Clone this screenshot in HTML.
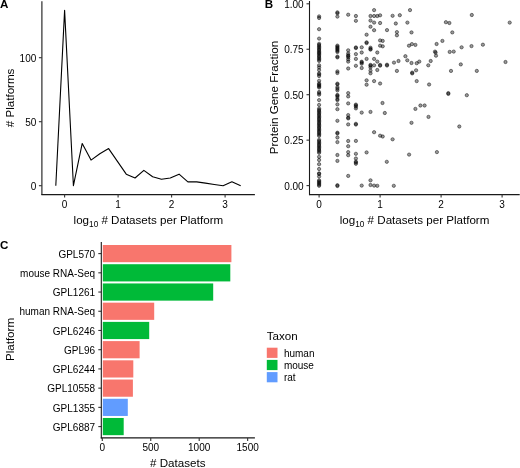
<!DOCTYPE html>
<html><head><meta charset="utf-8"><style>
html,body{margin:0;padding:0;background:#fff;}
body{width:520px;height:468px;overflow:hidden;font-family:"Liberation Sans",sans-serif;}
svg{display:block;}
</style></head><body>
<div style="will-change:transform;width:520px;height:468px;background:#fff"><svg width="520" height="468" viewBox="0 0 520 468" font-family="Liberation Sans, sans-serif"><line x1="41.9" y1="1.2" x2="41.9" y2="195.1" stroke="#1a1a1a" stroke-width="1.1"/>
<line x1="41.4" y1="194.6" x2="254.9" y2="194.6" stroke="#1a1a1a" stroke-width="1.1"/>
<line x1="38.9" y1="185.70" x2="41.9" y2="185.70" stroke="#333333" stroke-width="1.1"/>
<text x="36.3" y="189.70" text-anchor="end" font-size="10" fill="#000">0</text>
<line x1="38.9" y1="121.70" x2="41.9" y2="121.70" stroke="#333333" stroke-width="1.1"/>
<text x="36.3" y="125.70" text-anchor="end" font-size="10" fill="#000">50</text>
<line x1="38.9" y1="57.70" x2="41.9" y2="57.70" stroke="#333333" stroke-width="1.1"/>
<text x="36.3" y="61.70" text-anchor="end" font-size="10" fill="#000">100</text>
<line x1="64.60" y1="194.6" x2="64.60" y2="197.6" stroke="#333333" stroke-width="1.1"/>
<text x="64.60" y="208" text-anchor="middle" font-size="10" fill="#000">0</text>
<line x1="118.10" y1="194.6" x2="118.10" y2="197.6" stroke="#333333" stroke-width="1.1"/>
<text x="118.10" y="208" text-anchor="middle" font-size="10" fill="#000">1</text>
<line x1="171.60" y1="194.6" x2="171.60" y2="197.6" stroke="#333333" stroke-width="1.1"/>
<text x="171.60" y="208" text-anchor="middle" font-size="10" fill="#000">2</text>
<line x1="225.10" y1="194.6" x2="225.10" y2="197.6" stroke="#333333" stroke-width="1.1"/>
<text x="225.10" y="208" text-anchor="middle" font-size="10" fill="#000">3</text>
<polyline points="55.80,185.70 64.60,10.34 73.41,185.70 82.22,143.46 91.02,160.10 99.82,153.70 108.63,148.58 117.44,161.38 126.24,174.18 135.05,178.02 143.85,170.34 152.65,176.74 161.46,179.30 170.26,178.02 179.07,174.18 187.88,181.86 196.68,181.86 205.49,183.14 214.29,184.42 223.09,185.70 231.90,181.86 240.70,185.70" fill="none" stroke="#000" stroke-width="1.1" stroke-linejoin="round"/>
<text x="148.4" y="224.1" text-anchor="middle" font-size="11.6" fill="#000">log<tspan font-size="8.2" dy="2.6">10</tspan><tspan dy="-2.6"> # Datasets per Platform</tspan></text>
<text transform="translate(13.8,97.9) rotate(-90)" text-anchor="middle" font-size="11.6" fill="#000"># Platforms</text>
<text x="-0.1" y="8.4" font-size="11.6" font-weight="bold" fill="#000">A</text>
<line x1="309.5" y1="1.0" x2="309.5" y2="195.1" stroke="#1a1a1a" stroke-width="1.1"/>
<line x1="309.0" y1="194.6" x2="519.7" y2="194.6" stroke="#1a1a1a" stroke-width="1.1"/>
<line x1="306.5" y1="185.60" x2="309.5" y2="185.60" stroke="#333333" stroke-width="1.1"/>
<text x="303.6" y="189.80" text-anchor="end" font-size="10" fill="#000">0.00</text>
<line x1="306.5" y1="140.15" x2="309.5" y2="140.15" stroke="#333333" stroke-width="1.1"/>
<text x="303.6" y="144.35" text-anchor="end" font-size="10" fill="#000">0.25</text>
<line x1="306.5" y1="94.70" x2="309.5" y2="94.70" stroke="#333333" stroke-width="1.1"/>
<text x="303.6" y="98.90" text-anchor="end" font-size="10" fill="#000">0.50</text>
<line x1="306.5" y1="49.25" x2="309.5" y2="49.25" stroke="#333333" stroke-width="1.1"/>
<text x="303.6" y="53.45" text-anchor="end" font-size="10" fill="#000">0.75</text>
<line x1="306.5" y1="3.80" x2="309.5" y2="3.80" stroke="#333333" stroke-width="1.1"/>
<text x="303.6" y="8.00" text-anchor="end" font-size="10" fill="#000">1.00</text>
<line x1="319.10" y1="194.6" x2="319.10" y2="197.6" stroke="#333333" stroke-width="1.1"/>
<text x="319.10" y="208" text-anchor="middle" font-size="10" fill="#000">0</text>
<line x1="380.10" y1="194.6" x2="380.10" y2="197.6" stroke="#333333" stroke-width="1.1"/>
<text x="380.10" y="208" text-anchor="middle" font-size="10" fill="#000">1</text>
<line x1="441.10" y1="194.6" x2="441.10" y2="197.6" stroke="#333333" stroke-width="1.1"/>
<text x="441.10" y="208" text-anchor="middle" font-size="10" fill="#000">2</text>
<line x1="502.10" y1="194.6" x2="502.10" y2="197.6" stroke="#333333" stroke-width="1.1"/>
<text x="502.10" y="208" text-anchor="middle" font-size="10" fill="#000">3</text>
<text x="414.6" y="224.1" text-anchor="middle" font-size="11.6" fill="#000">log<tspan font-size="8.2" dy="2.6">10</tspan><tspan dy="-2.6"> # Datasets per Platform</tspan></text>
<text transform="translate(278.2,97.6) rotate(-90)" text-anchor="middle" font-size="11.6" fill="#000">Protein Gene Fraction</text>
<text x="264.7" y="8.4" font-size="11.6" font-weight="bold" fill="#000">B</text>
<g fill="rgba(0,0,0,0.4)" stroke="rgba(0,0,0,0.5)" stroke-width="0.9">
<circle cx="319.1" cy="16.4" r="1.65"/>
<circle cx="319.1" cy="18.0" r="1.65"/>
<circle cx="319.1" cy="29.2" r="1.65"/>
<circle cx="319.1" cy="38.6" r="1.65"/>
<circle cx="319.1" cy="65.3" r="1.65"/>
<circle cx="319.1" cy="67.5" r="1.65"/>
<circle cx="319.1" cy="70.1" r="1.65"/>
<circle cx="319.1" cy="73.4" r="1.65"/>
<circle cx="319.1" cy="76.0" r="1.65"/>
<circle cx="319.1" cy="80.8" r="1.65"/>
<circle cx="319.1" cy="83.5" r="1.65"/>
<circle cx="319.1" cy="85.5" r="1.65"/>
<circle cx="319.1" cy="87.5" r="1.65"/>
<circle cx="319.1" cy="92.0" r="1.65"/>
<circle cx="319.1" cy="94.7" r="1.65"/>
<circle cx="319.1" cy="100.1" r="1.65"/>
<circle cx="319.1" cy="104.9" r="1.65"/>
<circle cx="319.1" cy="156.8" r="1.65"/>
<circle cx="319.1" cy="160.0" r="1.65"/>
<circle cx="319.1" cy="164.2" r="1.65"/>
<circle cx="319.1" cy="169.0" r="1.65"/>
<circle cx="319.1" cy="173.3" r="1.65"/>
<circle cx="319.1" cy="174.0" r="1.65"/>
<circle cx="319.1" cy="176.5" r="1.65"/>
<circle cx="319.1" cy="43.8" r="1.65"/>
<circle cx="319.1" cy="45.0" r="1.65"/>
<circle cx="319.1" cy="46.3" r="1.65"/>
<circle cx="319.1" cy="47.5" r="1.65"/>
<circle cx="319.1" cy="48.8" r="1.65"/>
<circle cx="319.1" cy="50.0" r="1.65"/>
<circle cx="319.1" cy="51.3" r="1.65"/>
<circle cx="319.1" cy="53.4" r="1.65"/>
<circle cx="319.1" cy="54.6" r="1.65"/>
<circle cx="319.1" cy="55.9" r="1.65"/>
<circle cx="319.1" cy="57.1" r="1.65"/>
<circle cx="319.1" cy="58.4" r="1.65"/>
<circle cx="319.1" cy="59.6" r="1.65"/>
<circle cx="319.1" cy="60.9" r="1.65"/>
<circle cx="319.1" cy="52.5" r="1.65"/>
<circle cx="319.1" cy="108.6" r="1.65"/>
<circle cx="319.1" cy="109.9" r="1.65"/>
<circle cx="319.1" cy="111.2" r="1.65"/>
<circle cx="319.1" cy="112.5" r="1.65"/>
<circle cx="319.1" cy="113.8" r="1.65"/>
<circle cx="319.1" cy="115.1" r="1.65"/>
<circle cx="319.1" cy="116.4" r="1.65"/>
<circle cx="319.1" cy="117.7" r="1.65"/>
<circle cx="319.1" cy="119.0" r="1.65"/>
<circle cx="319.1" cy="120.3" r="1.65"/>
<circle cx="319.1" cy="121.6" r="1.65"/>
<circle cx="319.1" cy="122.9" r="1.65"/>
<circle cx="319.1" cy="124.2" r="1.65"/>
<circle cx="319.1" cy="125.5" r="1.65"/>
<circle cx="319.1" cy="126.8" r="1.65"/>
<circle cx="319.1" cy="128.1" r="1.65"/>
<circle cx="319.1" cy="129.4" r="1.65"/>
<circle cx="319.1" cy="130.7" r="1.65"/>
<circle cx="319.1" cy="132.0" r="1.65"/>
<circle cx="319.1" cy="133.3" r="1.65"/>
<circle cx="319.1" cy="134.6" r="1.65"/>
<circle cx="319.1" cy="135.9" r="1.65"/>
<circle cx="319.1" cy="139.8" r="1.65"/>
<circle cx="319.1" cy="141.1" r="1.65"/>
<circle cx="319.1" cy="142.4" r="1.65"/>
<circle cx="319.1" cy="143.7" r="1.65"/>
<circle cx="319.1" cy="145.0" r="1.65"/>
<circle cx="319.1" cy="146.3" r="1.65"/>
<circle cx="319.1" cy="147.6" r="1.65"/>
<circle cx="319.1" cy="148.9" r="1.65"/>
<circle cx="319.1" cy="150.2" r="1.65"/>
<circle cx="319.1" cy="151.5" r="1.65"/>
<circle cx="319.1" cy="152.8" r="1.65"/>
<circle cx="319.1" cy="180.3" r="1.65"/>
<circle cx="319.1" cy="181.4" r="1.65"/>
<circle cx="319.1" cy="182.5" r="1.65"/>
<circle cx="319.1" cy="183.6" r="1.65"/>
<circle cx="319.1" cy="184.7" r="1.65"/>
<circle cx="319.1" cy="185.8" r="1.65"/>
<circle cx="319.1" cy="84.5" r="1.65"/>
<circle cx="319.1" cy="86.5" r="1.65"/>
<circle cx="319.1" cy="74.4" r="1.65"/>
<circle cx="319.1" cy="93.3" r="1.65"/>
<circle cx="337.4" cy="12.3" r="1.65"/>
<circle cx="337.4" cy="13.3" r="1.65"/>
<circle cx="337.4" cy="16.6" r="1.65"/>
<circle cx="337.4" cy="45.6" r="1.65"/>
<circle cx="337.4" cy="46.6" r="1.65"/>
<circle cx="337.4" cy="47.7" r="1.65"/>
<circle cx="337.4" cy="48.7" r="1.65"/>
<circle cx="337.4" cy="49.8" r="1.65"/>
<circle cx="337.4" cy="50.9" r="1.65"/>
<circle cx="337.4" cy="52.0" r="1.65"/>
<circle cx="337.4" cy="56.6" r="1.65"/>
<circle cx="337.4" cy="57.4" r="1.65"/>
<circle cx="337.4" cy="71.4" r="1.65"/>
<circle cx="337.4" cy="73.0" r="1.65"/>
<circle cx="337.4" cy="83.6" r="1.65"/>
<circle cx="337.4" cy="84.4" r="1.65"/>
<circle cx="337.4" cy="87.2" r="1.65"/>
<circle cx="337.4" cy="88.8" r="1.65"/>
<circle cx="337.4" cy="90.4" r="1.65"/>
<circle cx="337.4" cy="95.0" r="1.65"/>
<circle cx="337.4" cy="95.6" r="1.65"/>
<circle cx="337.4" cy="96.9" r="1.65"/>
<circle cx="337.4" cy="99.1" r="1.65"/>
<circle cx="337.4" cy="100.1" r="1.65"/>
<circle cx="337.4" cy="104.4" r="1.65"/>
<circle cx="337.4" cy="109.2" r="1.65"/>
<circle cx="337.4" cy="120.8" r="1.65"/>
<circle cx="337.4" cy="132.7" r="1.65"/>
<circle cx="337.4" cy="133.5" r="1.65"/>
<circle cx="337.4" cy="137.5" r="1.65"/>
<circle cx="337.4" cy="142.1" r="1.65"/>
<circle cx="337.4" cy="155.0" r="1.65"/>
<circle cx="337.4" cy="160.9" r="1.65"/>
<circle cx="337.4" cy="185.2" r="1.65"/>
<circle cx="337.4" cy="186.0" r="1.65"/>
<circle cx="348.2" cy="14.7" r="1.65"/>
<circle cx="348.2" cy="50.3" r="1.65"/>
<circle cx="348.2" cy="53.5" r="1.65"/>
<circle cx="348.2" cy="55.3" r="1.65"/>
<circle cx="348.2" cy="56.1" r="1.65"/>
<circle cx="348.2" cy="57.3" r="1.65"/>
<circle cx="348.2" cy="59.4" r="1.65"/>
<circle cx="348.2" cy="61.6" r="1.65"/>
<circle cx="348.2" cy="68.5" r="1.65"/>
<circle cx="348.2" cy="93.1" r="1.65"/>
<circle cx="348.2" cy="96.4" r="1.65"/>
<circle cx="348.2" cy="103.4" r="1.65"/>
<circle cx="348.2" cy="115.1" r="1.65"/>
<circle cx="348.2" cy="117.6" r="1.65"/>
<circle cx="348.2" cy="118.4" r="1.65"/>
<circle cx="348.2" cy="124.4" r="1.65"/>
<circle cx="348.2" cy="141.0" r="1.65"/>
<circle cx="348.2" cy="146.2" r="1.65"/>
<circle cx="348.2" cy="152.1" r="1.65"/>
<circle cx="348.2" cy="155.2" r="1.65"/>
<circle cx="348.2" cy="175.9" r="1.65"/>
<circle cx="355.9" cy="16.0" r="1.65"/>
<circle cx="355.9" cy="20.8" r="1.65"/>
<circle cx="355.9" cy="47.4" r="1.65"/>
<circle cx="355.9" cy="48.1" r="1.65"/>
<circle cx="355.9" cy="54.1" r="1.65"/>
<circle cx="355.9" cy="58.9" r="1.65"/>
<circle cx="355.9" cy="65.8" r="1.65"/>
<circle cx="355.9" cy="104.6" r="1.65"/>
<circle cx="355.9" cy="105.4" r="1.65"/>
<circle cx="355.9" cy="106.6" r="1.65"/>
<circle cx="355.9" cy="108.4" r="1.65"/>
<circle cx="355.9" cy="123.8" r="1.65"/>
<circle cx="355.9" cy="124.6" r="1.65"/>
<circle cx="355.9" cy="140.9" r="1.65"/>
<circle cx="355.9" cy="153.8" r="1.65"/>
<circle cx="355.9" cy="158.5" r="1.65"/>
<circle cx="355.9" cy="161.7" r="1.65"/>
<circle cx="355.9" cy="162.5" r="1.65"/>
<circle cx="355.9" cy="163.8" r="1.65"/>
<circle cx="361.7" cy="47.3" r="1.65"/>
<circle cx="361.7" cy="52.5" r="1.65"/>
<circle cx="361.7" cy="61.7" r="1.65"/>
<circle cx="361.7" cy="62.5" r="1.65"/>
<circle cx="361.7" cy="63.7" r="1.65"/>
<circle cx="361.7" cy="68.0" r="1.65"/>
<circle cx="361.7" cy="112.6" r="1.65"/>
<circle cx="361.7" cy="185.6" r="1.65"/>
<circle cx="366.6" cy="34.7" r="1.65"/>
<circle cx="366.6" cy="42.3" r="1.65"/>
<circle cx="366.6" cy="43.1" r="1.65"/>
<circle cx="366.6" cy="58.9" r="1.65"/>
<circle cx="366.6" cy="80.3" r="1.65"/>
<circle cx="366.6" cy="84.7" r="1.65"/>
<circle cx="366.6" cy="152.4" r="1.65"/>
<circle cx="370.5" cy="16.0" r="1.65"/>
<circle cx="370.5" cy="20.6" r="1.65"/>
<circle cx="370.5" cy="26.7" r="1.65"/>
<circle cx="370.5" cy="47.7" r="1.65"/>
<circle cx="370.5" cy="49.0" r="1.65"/>
<circle cx="370.5" cy="49.6" r="1.65"/>
<circle cx="370.5" cy="64.9" r="1.65"/>
<circle cx="370.5" cy="65.7" r="1.65"/>
<circle cx="370.5" cy="67.4" r="1.65"/>
<circle cx="370.5" cy="70.6" r="1.65"/>
<circle cx="370.5" cy="73.3" r="1.65"/>
<circle cx="370.5" cy="111.9" r="1.65"/>
<circle cx="370.5" cy="180.3" r="1.65"/>
<circle cx="370.5" cy="185.0" r="1.65"/>
<circle cx="374.1" cy="10.1" r="1.65"/>
<circle cx="374.1" cy="16.0" r="1.65"/>
<circle cx="374.1" cy="22.6" r="1.65"/>
<circle cx="374.1" cy="30.2" r="1.65"/>
<circle cx="374.1" cy="58.9" r="1.65"/>
<circle cx="374.1" cy="65.3" r="1.65"/>
<circle cx="374.1" cy="81.1" r="1.65"/>
<circle cx="374.1" cy="132.2" r="1.65"/>
<circle cx="374.1" cy="185.6" r="1.65"/>
<circle cx="377.3" cy="16.0" r="1.65"/>
<circle cx="377.3" cy="52.5" r="1.65"/>
<circle cx="377.3" cy="61.6" r="1.65"/>
<circle cx="377.3" cy="70.0" r="1.65"/>
<circle cx="377.3" cy="185.8" r="1.65"/>
<circle cx="380.1" cy="15.3" r="1.65"/>
<circle cx="380.1" cy="23.0" r="1.65"/>
<circle cx="380.1" cy="40.4" r="1.65"/>
<circle cx="380.1" cy="45.7" r="1.65"/>
<circle cx="380.1" cy="64.9" r="1.65"/>
<circle cx="380.1" cy="65.7" r="1.65"/>
<circle cx="380.1" cy="83.5" r="1.65"/>
<circle cx="380.1" cy="135.7" r="1.65"/>
<circle cx="382.7" cy="40.9" r="1.65"/>
<circle cx="382.7" cy="46.3" r="1.65"/>
<circle cx="382.7" cy="136.5" r="1.65"/>
<circle cx="387.0" cy="30.1" r="1.65"/>
<circle cx="387.0" cy="64.7" r="1.65"/>
<circle cx="387.0" cy="65.5" r="1.65"/>
<circle cx="382.5" cy="103.0" r="1.65"/>
<circle cx="384.8" cy="113.0" r="1.65"/>
<circle cx="386.8" cy="161.8" r="1.65"/>
<circle cx="392.6" cy="15.8" r="1.65"/>
<circle cx="392.6" cy="139.3" r="1.65"/>
<circle cx="393.8" cy="185.8" r="1.65"/>
<circle cx="394.0" cy="62.6" r="1.65"/>
<circle cx="395.8" cy="23.5" r="1.65"/>
<circle cx="396.9" cy="32.1" r="1.65"/>
<circle cx="396.9" cy="35.3" r="1.65"/>
<circle cx="396.9" cy="70.9" r="1.65"/>
<circle cx="398.5" cy="61.0" r="1.65"/>
<circle cx="399.8" cy="15.2" r="1.65"/>
<circle cx="405.4" cy="56.2" r="1.65"/>
<circle cx="407.3" cy="60.3" r="1.65"/>
<circle cx="407.4" cy="22.6" r="1.65"/>
<circle cx="409.0" cy="45.7" r="1.65"/>
<circle cx="409.1" cy="154.6" r="1.65"/>
<circle cx="410.0" cy="10.1" r="1.65"/>
<circle cx="411.5" cy="32.4" r="1.65"/>
<circle cx="411.9" cy="44.1" r="1.65"/>
<circle cx="411.5" cy="63.0" r="1.65"/>
<circle cx="412.2" cy="72.6" r="1.65"/>
<circle cx="412.2" cy="73.4" r="1.65"/>
<circle cx="411.5" cy="122.8" r="1.65"/>
<circle cx="415.4" cy="44.9" r="1.65"/>
<circle cx="415.4" cy="108.9" r="1.65"/>
<circle cx="416.7" cy="63.2" r="1.65"/>
<circle cx="416.1" cy="70.3" r="1.65"/>
<circle cx="416.7" cy="81.1" r="1.65"/>
<circle cx="419.3" cy="61.6" r="1.65"/>
<circle cx="420.4" cy="105.5" r="1.65"/>
<circle cx="424.6" cy="105.5" r="1.65"/>
<circle cx="428.3" cy="65.3" r="1.65"/>
<circle cx="428.5" cy="116.9" r="1.65"/>
<circle cx="429.1" cy="84.5" r="1.65"/>
<circle cx="430.7" cy="61.0" r="1.65"/>
<circle cx="435.0" cy="51.6" r="1.65"/>
<circle cx="435.6" cy="52.6" r="1.65"/>
<circle cx="436.0" cy="55.7" r="1.65"/>
<circle cx="436.6" cy="44.0" r="1.65"/>
<circle cx="436.9" cy="152.1" r="1.65"/>
<circle cx="442.4" cy="40.9" r="1.65"/>
<circle cx="445.9" cy="22.2" r="1.65"/>
<circle cx="449.4" cy="23.0" r="1.65"/>
<circle cx="448.3" cy="93.1" r="1.65"/>
<circle cx="448.3" cy="93.9" r="1.65"/>
<circle cx="449.7" cy="51.9" r="1.65"/>
<circle cx="453.7" cy="51.6" r="1.65"/>
<circle cx="451.0" cy="70.9" r="1.65"/>
<circle cx="452.3" cy="32.4" r="1.65"/>
<circle cx="459.3" cy="126.5" r="1.65"/>
<circle cx="460.8" cy="64.4" r="1.65"/>
<circle cx="461.6" cy="47.3" r="1.65"/>
<circle cx="466.8" cy="95.2" r="1.65"/>
<circle cx="471.8" cy="15.0" r="1.65"/>
<circle cx="471.5" cy="46.1" r="1.65"/>
<circle cx="476.8" cy="70.9" r="1.65"/>
<circle cx="482.9" cy="44.7" r="1.65"/>
<circle cx="505.5" cy="62.0" r="1.65"/>
<circle cx="509.7" cy="22.6" r="1.65"/>
</g>
<rect x="102.8" y="245.00" width="128.60" height="17.2" fill="#F8766D"/>
<line x1="98.3" y1="253.60" x2="101.3" y2="253.60" stroke="#333333" stroke-width="1.1"/>
<text x="95.1" y="257.80" text-anchor="end" font-size="10" fill="#000">GPL570</text>
<rect x="102.8" y="264.22" width="127.50" height="17.2" fill="#00BA38"/>
<line x1="98.3" y1="272.82" x2="101.3" y2="272.82" stroke="#333333" stroke-width="1.1"/>
<text x="95.1" y="277.02" text-anchor="end" font-size="10" fill="#000">mouse RNA-Seq</text>
<rect x="102.8" y="283.44" width="110.40" height="17.2" fill="#00BA38"/>
<line x1="98.3" y1="292.04" x2="101.3" y2="292.04" stroke="#333333" stroke-width="1.1"/>
<text x="95.1" y="296.24" text-anchor="end" font-size="10" fill="#000">GPL1261</text>
<rect x="102.8" y="302.66" width="51.40" height="17.2" fill="#F8766D"/>
<line x1="98.3" y1="311.26" x2="101.3" y2="311.26" stroke="#333333" stroke-width="1.1"/>
<text x="95.1" y="315.46" text-anchor="end" font-size="10" fill="#000">human RNA-Seq</text>
<rect x="102.8" y="321.88" width="46.40" height="17.2" fill="#00BA38"/>
<line x1="98.3" y1="330.48" x2="101.3" y2="330.48" stroke="#333333" stroke-width="1.1"/>
<text x="95.1" y="334.68" text-anchor="end" font-size="10" fill="#000">GPL6246</text>
<rect x="102.8" y="341.10" width="36.80" height="17.2" fill="#F8766D"/>
<line x1="98.3" y1="349.70" x2="101.3" y2="349.70" stroke="#333333" stroke-width="1.1"/>
<text x="95.1" y="353.90" text-anchor="end" font-size="10" fill="#000">GPL96</text>
<rect x="102.8" y="360.32" width="30.50" height="17.2" fill="#F8766D"/>
<line x1="98.3" y1="368.92" x2="101.3" y2="368.92" stroke="#333333" stroke-width="1.1"/>
<text x="95.1" y="373.12" text-anchor="end" font-size="10" fill="#000">GPL6244</text>
<rect x="102.8" y="379.54" width="30.10" height="17.2" fill="#F8766D"/>
<line x1="98.3" y1="388.14" x2="101.3" y2="388.14" stroke="#333333" stroke-width="1.1"/>
<text x="95.1" y="392.34" text-anchor="end" font-size="10" fill="#000">GPL10558</text>
<rect x="102.8" y="398.76" width="25.00" height="17.2" fill="#619CFF"/>
<line x1="98.3" y1="407.36" x2="101.3" y2="407.36" stroke="#333333" stroke-width="1.1"/>
<text x="95.1" y="411.56" text-anchor="end" font-size="10" fill="#000">GPL1355</text>
<rect x="102.8" y="417.98" width="20.90" height="17.2" fill="#00BA38"/>
<line x1="98.3" y1="426.58" x2="101.3" y2="426.58" stroke="#333333" stroke-width="1.1"/>
<text x="95.1" y="430.78" text-anchor="end" font-size="10" fill="#000">GPL6887</text>
<line x1="101.3" y1="242" x2="101.3" y2="438.4" stroke="#1a1a1a" stroke-width="1.1"/>
<line x1="100.8" y1="437.9" x2="254.9" y2="437.9" stroke="#1a1a1a" stroke-width="1.1"/>
<line x1="102.30" y1="437.9" x2="102.30" y2="440.9" stroke="#333333" stroke-width="1.1"/>
<text x="102.30" y="450.8" text-anchor="middle" font-size="10" fill="#000">0</text>
<line x1="150.75" y1="437.9" x2="150.75" y2="440.9" stroke="#333333" stroke-width="1.1"/>
<text x="150.75" y="450.8" text-anchor="middle" font-size="10" fill="#000">500</text>
<line x1="199.20" y1="437.9" x2="199.20" y2="440.9" stroke="#333333" stroke-width="1.1"/>
<text x="199.20" y="450.8" text-anchor="middle" font-size="10" fill="#000">1000</text>
<line x1="247.65" y1="437.9" x2="247.65" y2="440.9" stroke="#333333" stroke-width="1.1"/>
<text x="247.65" y="450.8" text-anchor="middle" font-size="10" fill="#000">1500</text>
<text x="177.8" y="467" text-anchor="middle" font-size="11.6" fill="#000"># Datasets</text>
<text transform="translate(13.8,339.5) rotate(-90)" text-anchor="middle" font-size="11.6" fill="#000">Platform</text>
<text x="0.1" y="249.1" font-size="11.6" font-weight="bold" fill="#000">C</text>
<text x="266.7" y="340.3" font-size="11.6" fill="#000">Taxon</text>
<rect x="266.8" y="347.70" width="10.7" height="10.2" fill="#F8766D"/>
<text x="283.9" y="357" font-size="10" fill="#000">human</text>
<rect x="266.8" y="359.90" width="10.7" height="10.2" fill="#00BA38"/>
<text x="283.9" y="369" font-size="10" fill="#000">mouse</text>
<rect x="266.8" y="372.10" width="10.7" height="10.2" fill="#619CFF"/>
<text x="283.9" y="381" font-size="10" fill="#000">rat</text></svg></div>
</body></html>
